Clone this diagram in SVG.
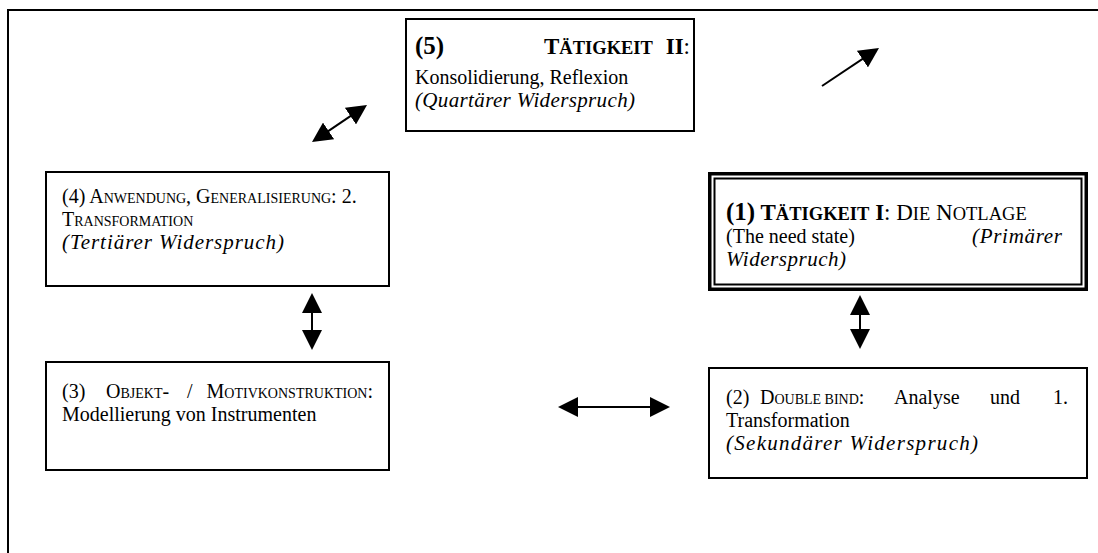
<svg xmlns="http://www.w3.org/2000/svg" width="1098" height="553" viewBox="0 0 1098 553">
<style>
text{font-family:"Liberation Serif","Times New Roman",serif;font-size:20px;fill:#000}
.b{font-weight:bold}
.n{font-weight:bold;font-size:25px}
.h{font-size:23px}
.hs{font-size:18.5px}
.sc{font-size:14px}
.i{font-style:italic;font-size:21px}
.box{fill:#fff;stroke:#000;stroke-width:2}
.con{stroke:#000;stroke-width:2;fill:none}
</style>
<defs>
<marker id="ah" markerUnits="userSpaceOnUse" markerWidth="20" markerHeight="20" viewBox="0 0 20 20" refX="16" refY="10" orient="auto-start-reverse">
<path d="M0,0 L20,10 L0,20 z" fill="#000"/>
</marker>
</defs>
<rect width="1098" height="553" fill="#fff"/>
<g id="frame">
<path d="M8,553 V10 H1098" fill="none" stroke="#000" stroke-width="2"/>
</g>
<g id="node5">
<rect class="box" x="406" y="19" width="288" height="112"/>
<text x="415" y="54" class="n">(5)</text>
<text x="544" y="54" class="b h">T<tspan class="hs">ÄTIGKEIT</tspan></text>
<text x="690" y="54" text-anchor="end" class="h"><tspan class="b">II</tspan>:</text>
<text x="415" y="84">Konsolidierung, Reflexion</text>
<text x="415" y="107" class="i" textLength="220" lengthAdjust="spacing">(Quartärer Widerspruch)</text>
</g>
<g id="node4">
<rect class="box" x="46" y="172" width="343" height="114"/>
<text x="62" y="203">(4) A<tspan class="sc">NWENDUNG</tspan>, G<tspan class="sc">ENERALISIERUNG</tspan>: 2.</text>
<text x="62" y="226">T<tspan class="sc">RANSFORMATION</tspan></text>
<text x="62" y="249" class="i" textLength="222" lengthAdjust="spacing">(Tertiärer Widerspruch)</text>
</g>
<g id="node1">
<rect x="709.75" y="173.75" width="376.5" height="115.5" fill="#fff" stroke="#000" stroke-width="3.5"/>
<rect x="714.5" y="178.5" width="367" height="106" fill="none" stroke="#000" stroke-width="2"/>
<text x="726" y="220" class="h"><tspan class="n">(1)</tspan><tspan class="b"> T<tspan class="hs">ÄTIGKEIT</tspan> I</tspan>: D<tspan class="hs">IE</tspan> N<tspan class="hs">OTLAGE</tspan></text>
<text x="726" y="243">(The need state)</text>
<text x="1062" y="243" text-anchor="end" class="i" textLength="90" lengthAdjust="spacing">(Primärer</text>
<text x="726" y="266" class="i" textLength="120" lengthAdjust="spacing">Widerspruch)</text>
</g>
<g id="node3">
<rect class="box" x="46" y="362" width="343" height="108"/>
<text x="62" y="398">(3)</text>
<text x="106" y="398">O<tspan class="sc">BJEKT</tspan>-</text>
<text x="187" y="398">/</text>
<text x="373" y="398" text-anchor="end">M<tspan class="sc">OTIVKONSTRUKTION</tspan>:</text>
<text x="62" y="421">Modellierung von Instrumenten</text>
</g>
<g id="node2">
<rect class="box" x="709" y="368" width="378" height="110"/>
<text x="726" y="404">(2)</text>
<text x="760" y="404">D<tspan class="sc">OUBLE BIND</tspan>:</text>
<text x="894" y="404">Analyse</text>
<text x="990" y="404">und</text>
<text x="1068" y="404" text-anchor="end">1.</text>
<text x="726" y="427">Transformation</text>
<text x="726" y="450" class="i" textLength="252" lengthAdjust="spacing">(Sekundärer Widerspruch)</text>
</g>
<g id="connectors">
<line class="con" x1="315.3" y1="139.8" x2="363.7" y2="107.2" marker-start="url(#ah)" marker-end="url(#ah)"/>
<line class="con" x1="822" y1="86" x2="875.7" y2="50.2" marker-end="url(#ah)"/>
<line class="con" x1="312" y1="297" x2="312" y2="346" marker-start="url(#ah)" marker-end="url(#ah)"/>
<line class="con" x1="860" y1="299" x2="860" y2="345" marker-start="url(#ah)" marker-end="url(#ah)"/>
<line class="con" x1="562" y1="407" x2="666" y2="407" marker-start="url(#ah)" marker-end="url(#ah)"/>
</g>
</svg>
